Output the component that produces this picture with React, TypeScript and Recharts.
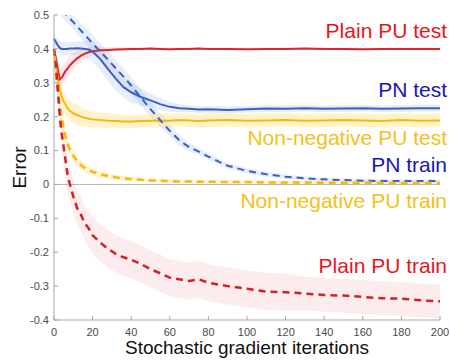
import React from "react";
import {
  ComposedChart,
  Line,
  Area,
  XAxis,
  YAxis,
  ReferenceLine,
  ReferenceDot,
  Label,
} from "recharts";

// iterations sampled (denser at the start where curves drop fast)
const iters = [0, 1, 2, 3, 4, 5, 6, 7, 8, 10, 12, 14, 16, 18, 20, 24, 28, 32, 36, 40, 45, 50, 55, 60, 65, 70, 75, 80, 90, 100, 110, 120, 130, 140, 150, 160, 170, 180, 190, 200];

const plainTest = [0.4, 0.37, 0.34, 0.31, 0.315, 0.325, 0.335, 0.342, 0.35, 0.362, 0.372, 0.38, 0.386, 0.39, 0.393, 0.396, 0.397, 0.398, 0.399, 0.4, 0.4, 0.401, 0.4, 0.399, 0.4, 0.4, 0.401, 0.4, 0.4, 0.399, 0.4, 0.4, 0.401, 0.4, 0.4, 0.399, 0.4, 0.4, 0.4, 0.4];
const plainTrain = [0.4, 0.35, 0.28, 0.2, 0.15, 0.11, 0.07, 0.03, 0.005, -0.035, -0.07, -0.09, -0.115, -0.13, -0.15, -0.172, -0.19, -0.205, -0.215, -0.222, -0.235, -0.25, -0.262, -0.275, -0.28, -0.285, -0.28, -0.29, -0.3, -0.308, -0.316, -0.318, -0.322, -0.326, -0.328, -0.332, -0.336, -0.337, -0.342, -0.345];
const pnTest = [0.43, 0.42, 0.41, 0.403, 0.4, 0.4, 0.4, 0.4, 0.401, 0.401, 0.402, 0.401, 0.4, 0.398, 0.392, 0.37, 0.34, 0.312, 0.287, 0.272, 0.258, 0.248, 0.237, 0.229, 0.225, 0.223, 0.221, 0.222, 0.22, 0.222, 0.224, 0.223, 0.225, 0.223, 0.224, 0.225, 0.223, 0.224, 0.225, 0.225];
const pnTrain = [0.54, 0.534, 0.528, 0.522, 0.515, 0.509, 0.503, 0.497, 0.491, 0.479, 0.466, 0.454, 0.441, 0.429, 0.416, 0.392, 0.368, 0.343, 0.318, 0.292, 0.257, 0.222, 0.19, 0.158, 0.13, 0.11, 0.097, 0.082, 0.055, 0.04, 0.03, 0.023, 0.018, 0.015, 0.013, 0.011, 0.01, 0.01, 0.01, 0.01];
const nnTest = [0.4, 0.35, 0.31, 0.28, 0.26, 0.245, 0.235, 0.225, 0.218, 0.21, 0.205, 0.2, 0.197, 0.194, 0.192, 0.19, 0.188, 0.187, 0.186, 0.186, 0.187, 0.188, 0.189, 0.188, 0.19, 0.189, 0.187, 0.189, 0.19, 0.188, 0.189, 0.19, 0.188, 0.189, 0.19, 0.189, 0.187, 0.19, 0.188, 0.189];
const nnTrain = [0.4, 0.33, 0.27, 0.23, 0.2, 0.165, 0.14, 0.12, 0.105, 0.085, 0.068, 0.057, 0.048, 0.042, 0.037, 0.03, 0.025, 0.021, 0.018, 0.016, 0.014, 0.012, 0.011, 0.01, 0.009, 0.009, 0.008, 0.008, 0.007, 0.007, 0.006, 0.006, 0.006, 0.005, 0.005, 0.005, 0.005, 0.004, 0.004, 0.004];

// half-width of the faint trial bands around each mean curve
const plainTestSpread = [0, 0.02, 0.03, 0.03, 0.03, 0.03, 0.03, 0.03, 0.03, 0.025, 0.02, 0.02, 0.015, 0.015, 0.012, 0.01, 0.008, 0.006, 0.005, 0.004, 0.003, 0.003, 0.003, 0.003, 0.003, 0.003, 0.003, 0.003, 0.003, 0.003, 0.003, 0.003, 0.003, 0.003, 0.003, 0.003, 0.003, 0.003, 0.003, 0.003];
const plainTrainSpread = [0, 0.02, 0.03, 0.04, 0.045, 0.05, 0.05, 0.05, 0.05, 0.05, 0.05, 0.05, 0.05, 0.055, 0.055, 0.055, 0.055, 0.055, 0.055, 0.055, 0.055, 0.055, 0.055, 0.055, 0.055, 0.055, 0.055, 0.055, 0.055, 0.055, 0.055, 0.055, 0.05, 0.05, 0.05, 0.05, 0.05, 0.05, 0.05, 0.05];
const pnTestSpread = [0.01, 0.015, 0.02, 0.02, 0.02, 0.02, 0.02, 0.02, 0.02, 0.02, 0.02, 0.02, 0.025, 0.03, 0.03, 0.035, 0.035, 0.035, 0.03, 0.03, 0.025, 0.02, 0.018, 0.015, 0.012, 0.01, 0.01, 0.01, 0.01, 0.01, 0.01, 0.01, 0.01, 0.01, 0.01, 0.01, 0.01, 0.01, 0.01, 0.01];
const pnTrainSpread = [0.02, 0.02, 0.02, 0.02, 0.02, 0.02, 0.02, 0.02, 0.02, 0.02, 0.022, 0.022, 0.025, 0.025, 0.025, 0.025, 0.025, 0.025, 0.025, 0.025, 0.025, 0.022, 0.02, 0.018, 0.015, 0.012, 0.01, 0.01, 0.008, 0.008, 0.008, 0.006, 0.006, 0.005, 0.005, 0.005, 0.005, 0.005, 0.005, 0.005];
const nnTestSpread = [0.01, 0.02, 0.025, 0.03, 0.03, 0.03, 0.03, 0.03, 0.03, 0.03, 0.03, 0.028, 0.025, 0.025, 0.025, 0.022, 0.022, 0.022, 0.02, 0.02, 0.02, 0.02, 0.02, 0.02, 0.02, 0.02, 0.02, 0.02, 0.02, 0.02, 0.02, 0.02, 0.02, 0.02, 0.02, 0.02, 0.02, 0.02, 0.02, 0.02];
const nnTrainSpread = [0.01, 0.02, 0.025, 0.025, 0.025, 0.02, 0.02, 0.02, 0.018, 0.016, 0.015, 0.014, 0.012, 0.012, 0.01, 0.01, 0.008, 0.008, 0.007, 0.006, 0.005, 0.005, 0.005, 0.005, 0.005, 0.005, 0.005, 0.005, 0.005, 0.005, 0.005, 0.005, 0.005, 0.005, 0.005, 0.005, 0.005, 0.005, 0.005, 0.005];

const xTicks = [0, 20, 40, 60, 80, 100, 120, 140, 160, 180, 200];
const yTicks = [-0.4, -0.3, -0.2, -0.1, 0, 0.1, 0.2, 0.3, 0.4, 0.5];

// curve names written at the right edge
const labelTexts = ["Plain PU test", "PN test", "Non-negative PU test", "PN train", "Non-negative PU train", "Plain PU train"];
const labelYs = [0.453, 0.281, 0.139, 0.059, -0.047, -0.24];
const labelColors = ["#e8151d", "#1717b0", "#f2c219", "#1717b0", "#f2c219", "#e8151d"];

const RED = "#e3222a";
const RED_DARK = "#d0212b";
const BLUE = "#3a60c4";
const YELLOW = "#f5b90a";
const FONT = "'Liberation Sans', Arial, sans-serif";

const data = iters.map((it, i) => ({
  it,
  plainTest: plainTest[i],
  plainTrain: plainTrain[i],
  pnTest: pnTest[i],
  pnTrain: pnTrain[i],
  nnTest: nnTest[i],
  nnTrain: nnTrain[i],
  plainTestBand: [plainTest[i] - plainTestSpread[i], plainTest[i] + plainTestSpread[i]],
  plainTrainBand: [plainTrain[i] - plainTrainSpread[i], plainTrain[i] + plainTrainSpread[i]],
  pnTestBand: [pnTest[i] - pnTestSpread[i], pnTest[i] + pnTestSpread[i]],
  pnTrainBand: [pnTrain[i] - pnTrainSpread[i], pnTrain[i] + pnTrainSpread[i]],
  nnTestBand: [nnTest[i] - nnTestSpread[i], nnTest[i] + nnTestSpread[i]],
  nnTrainBand: [nnTrain[i] - nnTrainSpread[i], nnTrain[i] + nnTrainSpread[i]],
}));

const fmtY = (v: number) => (v === 0 ? "0" : String(Math.round(v * 10) / 10));

export default function App() {
  return (
    <div style={{ position: "absolute", left: 0, top: 0, width: 450, height: 360, background: "#fff", fontFamily: FONT }}>
      <ComposedChart width={450} height={360} data={data} margin={{ top: 15, right: 10, bottom: 0, left: 0 }}>
        <XAxis
          dataKey="it"
          type="number"
          domain={[0, 200]}
          ticks={xTicks}
          stroke="#a6a6a6"
          tickSize={-4}
          tickMargin={12}
          height={40}
          tick={{ fill: "#4a4a4a", fontSize: 11, fontFamily: FONT }}
        >
          <Label value="Stochastic gradient iterations" position="insideBottom" offset={6} fill="#111" fontSize={19} fontFamily={FONT} />
        </XAxis>
        <YAxis
          type="number"
          domain={[-0.4, 0.5]}
          allowDataOverflow
          ticks={yTicks}
          tickFormatter={fmtY}
          stroke="#a6a6a6"
          tickSize={-4}
          tickMargin={9}
          width={54}
          tick={{ fill: "#4a4a4a", fontSize: 11, fontFamily: FONT }}
        >
          <Label value="Error" angle={-90} position="insideLeft" offset={19} fill="#111" fontSize={19} fontFamily={FONT} style={{ textAnchor: "middle" }} />
        </YAxis>
        <ReferenceLine y={0} stroke="#b5b5b5" strokeWidth={1} />

        <Area dataKey="plainTrainBand" stroke="none" fill="#f7a9b0" fillOpacity={0.22} isAnimationActive={false} />
        <Area dataKey="plainTestBand" stroke="none" fill="#f7a9b0" fillOpacity={0.25} isAnimationActive={false} />
        <Area dataKey="pnTrainBand" stroke="none" fill="#a9bfe9" fillOpacity={0.28} isAnimationActive={false} />
        <Area dataKey="pnTestBand" stroke="none" fill="#a9bfe9" fillOpacity={0.28} isAnimationActive={false} />
        <Area dataKey="nnTestBand" stroke="none" fill="#ffdc73" fillOpacity={0.35} isAnimationActive={false} />
        <Area dataKey="nnTrainBand" stroke="none" fill="#ffdc73" fillOpacity={0.35} isAnimationActive={false} />

        <Line dataKey="plainTest" stroke={RED} strokeWidth={2} dot={false} isAnimationActive={false} />
        <Line dataKey="pnTest" stroke={BLUE} strokeWidth={2} dot={false} isAnimationActive={false} />
        <Line dataKey="nnTest" stroke={YELLOW} strokeWidth={2} dot={false} isAnimationActive={false} />
        <Line dataKey="pnTrain" stroke={BLUE} strokeWidth={2} strokeDasharray="7 5" dot={false} isAnimationActive={false} />
        <Line dataKey="nnTrain" stroke={YELLOW} strokeWidth={2.5} strokeDasharray="7 5" dot={false} isAnimationActive={false} />
        <Line dataKey="plainTrain" stroke={RED_DARK} strokeWidth={2.5} strokeDasharray="7 5" dot={false} isAnimationActive={false} />

        {labelTexts.map((t, i) => (
          <ReferenceDot
            key={t}
            x={200}
            y={labelYs[i]}
            r={0}
            fill="none"
            stroke="none"
            label={(p: any) => (
              <text
                x={p.viewBox.x + 7}
                y={p.viewBox.y}
                dy="0.35em"
                textAnchor="end"
                fill={labelColors[i]}
                fontSize={21}
                fontFamily={FONT}
              >
                {t}
              </text>
            )}
          />
        ))}
      </ComposedChart>
    </div>
  );
}
